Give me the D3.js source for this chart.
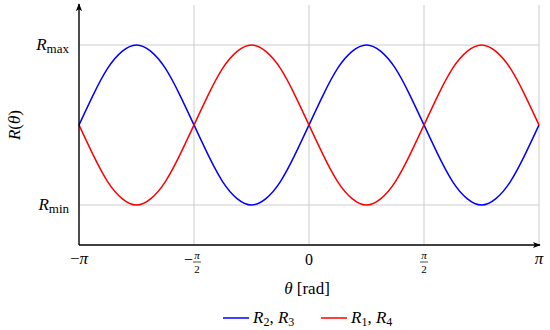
<!DOCTYPE html>
<html><head><meta charset="utf-8">
<script src="https://cdn.jsdelivr.net/npm/d3@7"></script>
<style>body{margin:0;background:#fff}svg{display:block}text{font-family:"Liberation Serif","Times New Roman",serif;fill:#000}</style>
</head><body><div id="chart"></div>
<script>
// theta samples in units of pi (step pi/16)
const thetaPi = [-1,-0.9375,-0.875,-0.8125,-0.75,-0.6875,-0.625,-0.5625,-0.5,-0.4375,-0.375,-0.3125,-0.25,-0.1875,-0.125,-0.0625,0,0.0625,0.125,0.1875,0.25,0.3125,0.375,0.4375,0.5,0.5625,0.625,0.6875,0.75,0.8125,0.875,0.9375,1];
// normalized R (−1 = Rmin, +1 = Rmax)
const r23 = [0,0.38,0.71,0.92,1,0.92,0.71,0.38,0,-0.38,-0.71,-0.92,-1,-0.92,-0.71,-0.38,0,0.38,0.71,0.92,1,0.92,0.71,0.38,0,-0.38,-0.71,-0.92,-1,-0.92,-0.71,-0.38,0];
const r14 = [0,-0.38,-0.71,-0.92,-1,-0.92,-0.71,-0.38,0,0.38,0.71,0.92,1,0.92,0.71,0.38,0,-0.38,-0.71,-0.92,-1,-0.92,-0.71,-0.38,0,0.38,0.71,0.92,1,0.92,0.71,0.38,0];
const xTicks = [-1,-0.5,0,0.5,1];
const xGrid = [-0.5,0,0.5,1];
const yTicks = [-1,1];
const yTickLabels = [["R","min"],["R","max"]];
const seriesNames = [["R","2",", ","R","3"],["R","1",", ","R","4"]];
const colors = ["#0000ff","#ff0000"];

const W=550,H=330;
const svg=d3.select("#chart").append("svg").attr("width",W).attr("height",H);
const x=d3.scaleLinear().domain([-1,1]).range([79,539]);
const y=d3.scaleLinear().domain([-1.5,1.5]).range([245,5]);

// grid
const g=svg.append("g");
g.selectAll(".vg").data(xGrid).enter().append("line")
 .attr("x1",d=>x(d)).attr("x2",d=>x(d)).attr("y1",y(1.5)).attr("y2",y(-1.5))
 .attr("stroke","#cccccc").attr("stroke-width",1);
g.selectAll(".hg").data(yTicks).enter().append("line")
 .attr("x1",x(-1)).attr("x2",x(1)).attr("y1",d=>y(d)).attr("y2",d=>y(d))
 .attr("stroke","#cccccc").attr("stroke-width",1);

// curves
const line=d3.line().x((d,i)=>x(thetaPi[i])).y(d=>y(d)).curve(d3.curveNatural);
[r23,r14].forEach((s,k)=>{
  svg.append("path").attr("d",line(s)).attr("fill","none").attr("stroke",colors[k]).attr("stroke-width",1.5);
});

// axes with arrows
const defs=svg.append("defs");
defs.append("marker").attr("id","arr").attr("viewBox","0 0 10 10").attr("refX",9).attr("refY",5)
 .attr("markerWidth",8).attr("markerHeight",8).attr("markerUnits","userSpaceOnUse").attr("orient","auto")
 .append("path").attr("d","M0,1 L10,5 L0,9 L2.5,5 Z").attr("fill","#000");
svg.append("line").attr("x1",x(-1)).attr("x2",x(1)+1).attr("y1",y(-1.5)).attr("y2",y(-1.5))
 .attr("stroke","#000").attr("stroke-width",1.4).attr("marker-end","url(#arr)");
svg.append("line").attr("x1",x(-1)).attr("x2",x(-1)).attr("y1",y(-1.5)).attr("y2",y(1.5)-1)
 .attr("stroke","#000").attr("stroke-width",1.4).attr("marker-end","url(#arr)");

// y tick labels
yTicks.forEach((v,i)=>{
  const t=svg.append("text").attr("x",69).attr("y",y(v)+5).attr("text-anchor","end").attr("font-size",17);
  t.append("tspan").attr("font-style","italic").text(yTickLabels[i][0]);
  t.append("tspan").attr("font-size",13).attr("dy",3).text(yTickLabels[i][1]);
});

// x tick labels
xTicks.forEach(v=>{
  const cx=x(v);
  const a=Math.abs(v);
  const neg=v<0;
  if(a===0){
    svg.append("text").attr("x",cx).attr("y",265).attr("text-anchor","middle").attr("font-size",16).text("0");
  } else if(a===1){
    const t=svg.append("text").attr("x",cx).attr("y",264).attr("text-anchor","middle").attr("font-size",17);
    if(neg) t.append("tspan").text("\u2212");
    t.append("tspan").attr("font-style","italic").text("\u03C0");
  } else {
    const fx=cx+(neg?3:0);
    if(neg) svg.append("text").attr("x",fx-4).attr("y",265).attr("text-anchor","end").attr("font-size",16).text("\u2212");
    svg.append("text").attr("x",fx).attr("y",259).attr("text-anchor","middle").attr("font-size",11).attr("font-style","italic").text("\u03C0");
    svg.append("line").attr("x1",fx-4).attr("x2",fx+4).attr("y1",262).attr("y2",262).attr("stroke","#000").attr("stroke-width",0.7);
    svg.append("text").attr("x",fx).attr("y",273).attr("text-anchor","middle").attr("font-size",11).text("2");
  }
});

// axis titles
const xt=svg.append("text").attr("x",307).attr("y",294).attr("text-anchor","middle").attr("font-size",17);
xt.append("tspan").attr("font-style","italic").text("\u03B8");
xt.append("tspan").text(" [rad]");
const yt=svg.append("text").attr("transform","translate(20,125) rotate(-90)").attr("text-anchor","middle").attr("font-size",17);
yt.append("tspan").attr("font-style","italic").text("R");
yt.append("tspan").text("(");
yt.append("tspan").attr("font-style","italic").text("\u03B8");
yt.append("tspan").text(")");

// legend
const legX=[223,321];
seriesNames.forEach((n,k)=>{
  svg.append("line").attr("x1",legX[k]).attr("x2",legX[k]+26).attr("y1",318).attr("y2",318).attr("stroke",colors[k]).attr("stroke-width",1.5);
  const t=svg.append("text").attr("x",legX[k]+30).attr("y",323).attr("font-size",17);
  t.append("tspan").attr("font-style","italic").text(n[0]);
  t.append("tspan").attr("font-size",12).attr("dy",3).text(n[1]);
  t.append("tspan").attr("dy",-3).text(n[2]);
  t.append("tspan").attr("font-style","italic").text(n[3]);
  t.append("tspan").attr("font-size",12).attr("dy",3).text(n[4]);
});
</script></body></html>
